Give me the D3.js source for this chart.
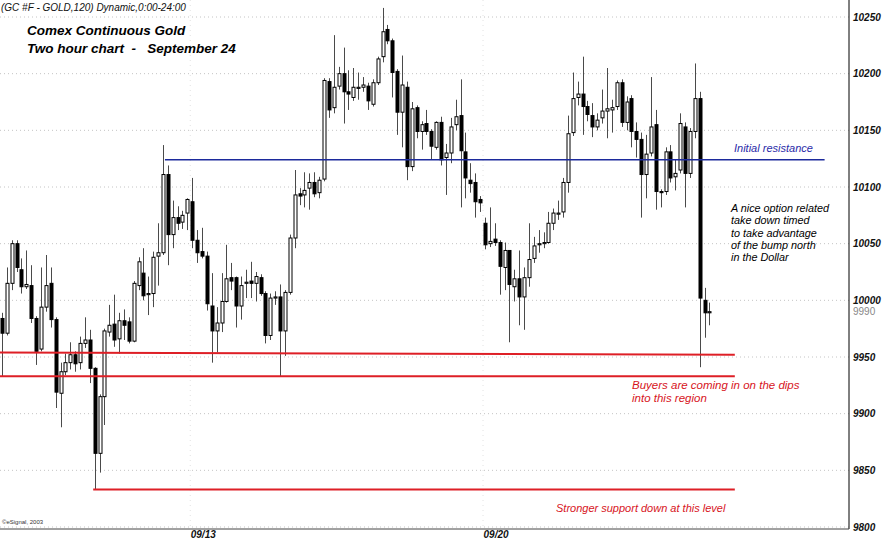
<!DOCTYPE html>
<html>
<head>
<meta charset="utf-8">
<script src="https://cdn.jsdelivr.net/npm/d3@7"></script>
<style>
  body { margin: 0; background: #fff; }
  svg { display: block; font-family: "Liberation Sans", Arial, sans-serif; }
</style>
</head>
<body>
<script>

// 2 hour bars, Comex gold (price x 10)
const opens = [9984,9971,10015,10050,10027,10012,10013,9984,9957,9994,10015,9983,9918,9937,9945,9952,9945,9962,9965,9940,
  9865,9915,9972,9979,9966,9982,9981,9964,10013,10024,10005,10006,10039,10042,10111,10058,10073,10069,10077,10087,
  10053,10043,10039,9995,9973,9980,9999,10020,10020,9995,10015,10017,10015,10020,10006,9969,10002,10003,9973,10007,
  10055,10094,10093,10099,10104,10095,10107,10193,10170,10189,10200,10184,10179,10187,10188,10189,10173,10192,10215,10239,
  10229,10202,10166,10188,10118,10170,10149,10156,10149,10135,10157,10126,10130,10155,10163,10131,10106,10104,10089,10068,
  10050,10054,10051,10029,10044,10012,10019,10003,10020,10037,10049,10050,10051,10068,10076,10078,10104,10148,10179,10182,
  10171,10163,10153,10161,10167,10168,10171,10192,10157,10178,10149,10142,10111,10130,10155,10096,10096,10131,10109,10115,
  10153,10112,10149,10178,10000,9989];
const highs = [9989,10029,10053,10053,10037,10044,10031,9986,10029,10040,10029,9985,9945,9953,9963,9955,9968,9985,9974,9941,
  9917,9975,9996,10005,9989,9992,9985,10017,10038,10046,10021,10043,10068,10137,10119,10088,10083,10079,10090,10108,
  10062,10064,10043,10024,9994,10024,10049,10033,10021,10021,10027,10034,10025,10023,10008,10006,10008,10014,10009,10058,
  10115,10099,10113,10112,10113,10109,10196,10196,10234,10206,10223,10203,10205,10201,10197,10192,10195,10215,10258,10243,
  10231,10204,10216,10193,10175,10172,10158,10168,10151,10158,10162,10138,10161,10177,10195,10148,10121,10112,10092,10073,
  10082,10068,10053,10051,10044,10027,10044,10029,10068,10056,10062,10060,10078,10081,10088,10108,10163,10201,10193,10215,
  10176,10174,10165,10186,10205,10177,10194,10195,10180,10181,10157,10148,10146,10197,10168,10098,10135,10137,10124,10165,
  10157,10152,10209,10184,10011,9998];
const lows = [9933,9969,10009,10025,10006,10010,9980,9943,9955,9990,9976,9905,9888,9934,9939,9937,9939,9958,9927,9833,
  9848,9890,9968,9959,9953,9965,9962,9963,10009,10000,9987,9994,10013,10040,10031,10046,10062,10063,10062,10046,
  10033,10037,9991,9945,9954,9972,9998,10009,9976,9983,10002,10002,9999,10004,9962,9965,9996,9933,9951,10005,
  10046,10084,10082,10080,10091,10090,10105,10161,10165,10186,10156,10168,10176,10177,10184,10168,10171,10190,10210,10226,
  10179,10146,10135,10106,10114,10143,10133,10146,10124,10133,10119,10093,10121,10150,10082,10090,10095,10073,10078,10045,
  10047,10048,10005,10009,9963,9999,9978,9974,10012,10033,10042,10046,10050,10062,10071,10073,10095,10145,10172,10146,
  10158,10144,10150,10156,10143,10148,10168,10153,10150,10135,10126,10073,10090,10127,10080,10082,10093,10104,10097,10112,
  10082,10108,10143,9941,9967,9978];
const closes = [9971,10015,10050,10029,10012,10014,9984,9955,9994,10013,9983,9919,9937,9945,9952,9944,9962,9965,9940,9865,
  9915,9973,9978,9965,9982,9978,9964,10015,10034,10004,10006,10038,10042,10111,10058,10073,10068,10075,10089,10053,
  10042,10039,9997,9973,9980,9999,10019,10017,9995,10013,10016,10015,10021,10006,9969,10002,10003,9973,10007,10055,
  10093,10092,10097,10104,10094,10106,10194,10168,10188,10200,10184,10182,10188,10188,10190,10176,10192,10213,10237,10229,
  10201,10166,10190,10118,10169,10149,10155,10149,10136,10157,10124,10130,10153,10162,10132,10108,10103,10087,10086,10049,
  10052,10051,10030,10044,10014,10019,10003,10020,10036,10048,10050,10051,10068,10077,10077,10104,10147,10178,10182,10171,
  10164,10153,10159,10167,10169,10170,10192,10157,10175,10149,10142,10111,10129,10153,10096,10095,10131,10108,10112,10156,
  10112,10149,10178,10002,9989,9990];

const priceTicks = [9800, 9850, 9900, 9950, 10000, 10050, 10100, 10150, 10200, 10250];
const lastPrice = 9990;
const dateTicks = [39, 99];
const dateLabels = ["09/13", "09/20"];

// drawn trend lines: bar index from/to and price at each end
const redLines = [
  {x1: -0.4, x2: 150.2, p1: 9954, p2: 9952},
  {x1: -0.4, x2: 150.2, p1: 9933, p2: 9933},
  {x1: 18.7, x2: 150.2, p1: 9833, p2: 9833}
];
const blueLine = {x1: 33.4, x2: 168.6, p1: 10124, p2: 10124};

const noteText = ["A nice option related", "take down timed", "to take advantage", "of the bump north", "in the Dollar"];
const buyersText = ["Buyers are coming in on the dips", "into this region"];

const width = 882, height = 540;
const axisX = 849, axisBottom = 529;

const svg = d3.select('body').append('svg')
  .attr('width', width)
  .attr('height', height);

const data = opens.map((o, i) => ({i: i, o: o, h: highs[i], l: lows[i], c: closes[i]}));

// scales
const xScale = d3.scaleLinear()
  .domain([-0.4, 173.6])
  .range([0, axisX]);

const yScale = d3.scaleLinear()
  .domain([9800, 10250])
  .range([527, 17]);

// dotted grid
svg.append('g')
  .selectAll('line')
  .data(priceTicks)
  .enter()
  .append('line')
  .attr('x1', 0).attr('x2', axisX)
  .attr('y1', d => yScale(d)).attr('y2', d => yScale(d))
  .attr('stroke', '#c4c4c4')
  .attr('stroke-dasharray', '1,3');

svg.append('g')
  .selectAll('line')
  .data(dateTicks)
  .enter()
  .append('line')
  .attr('x1', d => xScale(d) - 2).attr('x2', d => xScale(d) - 2)
  .attr('y1', 0).attr('y2', axisBottom)
  .attr('stroke', '#e2e2e2')
  .attr('stroke-dasharray', '1,4');

// frame lines
svg.append('line')
  .attr('x1', axisX).attr('x2', axisX)
  .attr('y1', 0).attr('y2', axisBottom)
  .attr('stroke', '#000');
svg.append('line')
  .attr('x1', 0).attr('x2', axisX)
  .attr('y1', axisBottom).attr('y2', axisBottom)
  .attr('stroke', '#444');

// right price axis
const yAxis = d3.axisRight(yScale)
  .tickValues(priceTicks)
  .tickSize(0)
  .tickPadding(4)
  .tickFormat(d3.format('d'));

const yAxisGroup = svg.append('g')
  .attr('class', 'axis y-axis')
  .attr('transform', `translate(${axisX},0)`)
  .call(yAxis);
yAxisGroup.select('.domain').remove();
yAxisGroup.selectAll('text')
  .attr('font-size', 10)
  .attr('font-style', 'italic')
  .attr('font-weight', 'bold')
  .attr('fill', '#111');

svg.append('text')
  .attr('x', axisX + 4)
  .attr('y', yScale(lastPrice))
  .attr('dy', '0.35em')
  .attr('font-size', 10)
  .attr('fill', '#888')
  .text(lastPrice);

// date axis
const xAxis = d3.axisBottom(xScale)
  .tickValues(dateTicks)
  .tickSize(0)
  .tickPadding(2)
  .tickFormat((d, k) => dateLabels[k]);

const xAxisGroup = svg.append('g')
  .attr('class', 'axis x-axis')
  .attr('transform', `translate(0,${axisBottom})`)
  .call(xAxis);
xAxisGroup.select('.domain').remove();
xAxisGroup.selectAll('text')
  .attr('text-anchor', 'start')
  .attr('dx', -2)
  .attr('font-size', 10)
  .attr('font-style', 'italic')
  .attr('font-weight', 'bold')
  .attr('fill', '#111');

// candles
const candles = svg.append('g')
  .selectAll('g')
  .data(data)
  .enter()
  .append('g');

candles.append('line')
  .attr('x1', d => Math.round(xScale(d.i)) + 0.5)
  .attr('x2', d => Math.round(xScale(d.i)) + 0.5)
  .attr('y1', d => yScale(d.h))
  .attr('y2', d => yScale(d.l))
  .attr('stroke', '#4a4a4a')
  .attr('stroke-width', 1);

candles.append('rect')
  .attr('x', d => Math.round(xScale(d.i)) - 1)
  .attr('y', d => yScale(Math.max(d.o, d.c)))
  .attr('width', 3)
  .attr('height', d => Math.max(1, Math.abs(yScale(d.o) - yScale(d.c))))
  .attr('fill', d => d.c >= d.o ? '#fff' : '#000')
  .attr('stroke', '#000')
  .attr('stroke-width', 1);

// support / resistance lines
svg.append('g')
  .selectAll('line')
  .data(redLines)
  .enter()
  .append('line')
  .attr('x1', d => xScale(d.x1)).attr('x2', d => xScale(d.x2))
  .attr('y1', d => yScale(d.p1)).attr('y2', d => yScale(d.p2))
  .attr('stroke', '#de1f26')
  .attr('stroke-width', 2);

svg.append('line')
  .attr('x1', xScale(blueLine.x1)).attr('x2', xScale(blueLine.x2))
  .attr('y1', yScale(blueLine.p1)).attr('y2', yScale(blueLine.p2))
  .attr('stroke', '#1c2a9c')
  .attr('stroke-width', 1.5);

// texts
svg.append('text')
  .attr('x', 1).attr('y', 11)
  .attr('font-size', 10)
  .attr('font-style', 'italic')
  .attr('fill', '#111')
  .text('(GC #F - GOLD,120) Dynamic,0:00-24:00');

const title = svg.append('g')
  .attr('font-size', 13.5)
  .attr('font-style', 'italic')
  .attr('font-weight', 'bold')
  .attr('fill', '#000');
title.append('text').attr('x', 27).attr('y', 35).text('Comex Continuous Gold');
title.append('text').attr('x', 27).attr('y', 53).text('Two hour chart \u00a0-\u00a0\u00a0 September 24');

svg.append('text')
  .attr('x', 734).attr('y', 152)
  .attr('font-size', 11)
  .attr('font-style', 'italic')
  .attr('fill', '#2a2aa8')
  .text('Initial resistance');

svg.append('g')
  .selectAll('text')
  .data(noteText)
  .enter()
  .append('text')
  .attr('x', 731)
  .attr('y', (d, k) => 212 + k * 12.3)
  .attr('font-size', 10.8)
  .attr('font-style', 'italic')
  .attr('fill', '#000')
  .text(d => d);

svg.append('g')
  .selectAll('text')
  .data(buyersText)
  .enter()
  .append('text')
  .attr('x', 632)
  .attr('y', (d, k) => 389 + k * 13)
  .attr('font-size', 11.5)
  .attr('font-style', 'italic')
  .attr('fill', '#d7141c')
  .text(d => d);

svg.append('text')
  .attr('x', 556).attr('y', 512)
  .attr('font-size', 11)
  .attr('font-style', 'italic')
  .attr('fill', '#d7141c')
  .text('Stronger support down at this level');

svg.append('text')
  .attr('x', 2).attr('y', 524)
  .attr('font-size', 6)
  .attr('fill', '#333')
  .text('\u00a9eSignal, 2003');

</script>
</body>
</html>
